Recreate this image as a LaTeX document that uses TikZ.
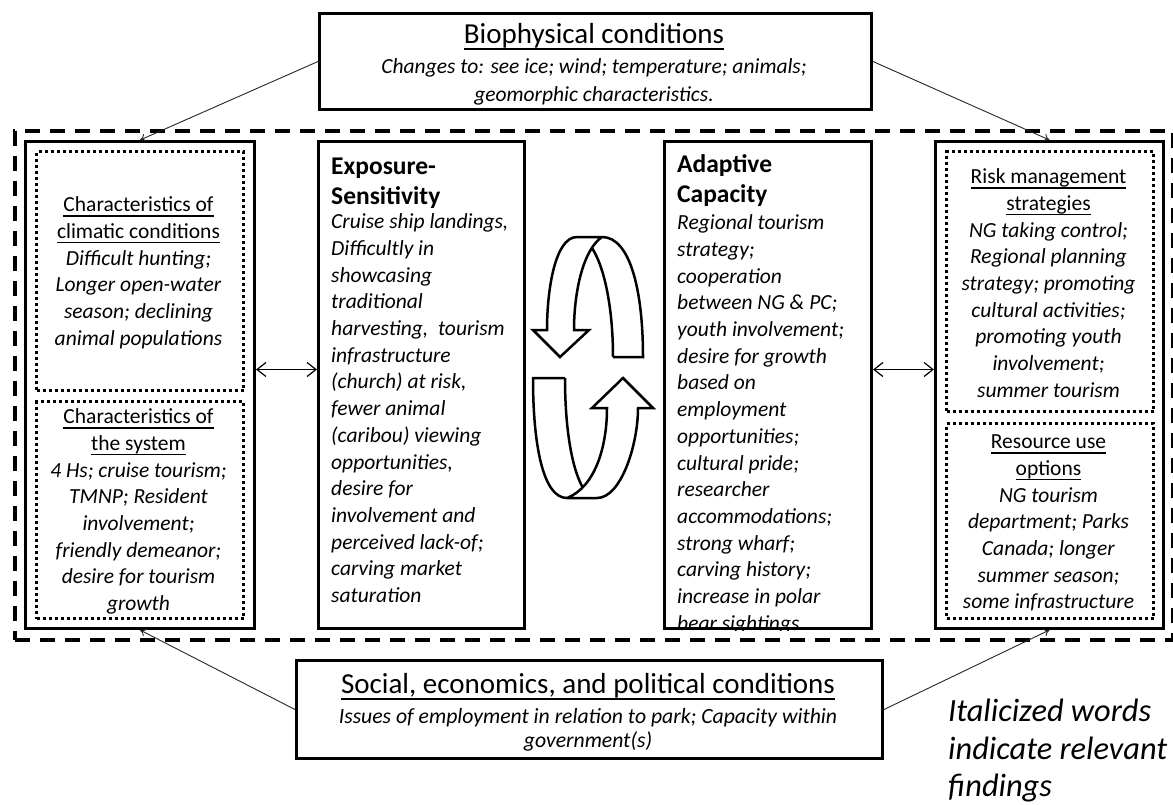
\documentclass[tikz,border=0pt]{standalone}
\usepackage{fontspec}
\setmainfont{Carlito}
\usetikzlibrary{arrows.meta}
% underline at a fixed depth below the baseline
\newcommand\ulhead[1]{\setbox0\hbox{#1}\rlap{\rule[-0.23em]{\wd0}{0.07em}}\box0}
% fixed-height strut so the first baseline sits a known distance below a node's top
\newcommand\topstrut{\rule{0pt}{22pt}}

\tikzset{
  solidbox/.style={draw, line width=3pt, rectangle, inner sep=0pt, anchor=north west},
  dotbox/.style={draw, line width=3pt, dash pattern=on 3pt off 3pt, rectangle, inner sep=0pt, anchor=north west},
  framebox/.style={draw, line width=4pt, dash pattern=on 15pt off 10pt, rectangle, inner sep=0pt, anchor=north west},
  body/.style={inner sep=0pt, font=\fontsize{21.5}{26.7}\selectfont, align=center, anchor=north},
  bodyleft/.style={body, align=left, anchor=north west},
  boxtitle/.style={inner sep=0pt, font=\fontsize{25.5}{30}\selectfont\bfseries, align=left, anchor=north west},
  headline/.style={anchor=base, inner sep=0pt, font=\fontsize{29}{34}\selectfont},
  link/.style={line width=0.9pt, draw=black!85, -{To[length=6pt,width=8pt]}},
  twoway/.style={line width=1.2pt, {Straight Barb[length=9pt,width=14pt]}-{Straight Barb[length=9pt,width=14pt]}},
  cyclearrow/.style={line width=2.5pt, line join=miter},
}

\begin{document}
\begin{tikzpicture}[x=1pt,y=-1pt]
\useasboundingbox (0,0) rectangle (1173,804);

% outer dashed frame
\node[framebox, minimum width=1158pt, minimum height=509pt] (frame) at (13,129) {};

% top and bottom condition boxes
\node[solidbox, minimum width=552pt, minimum height=96pt] (bio) at (318,12) {};
\node[headline] (biotitle) at (594,43.7) {\ulhead{Biophysical conditions}};
\node[body, font=\fontsize{21.5}{28}\selectfont\itshape] (biotxt) at (594,51.5)
  {\topstrut Changes to: see ice; wind; temperature; animals;\\ geomorphic characteristics.};

\node[solidbox, minimum width=586pt, minimum height=98pt] (soc) at (295,659) {};
\node[headline] (soctitle) at (588,693.2) {\ulhead{Social, economics, and political conditions}};
\node[body, font=\fontsize{21.7}{23.3}\selectfont\itshape] (soctxt) at (588,701.5)
  {\topstrut Issues of employment in relation to park; Capacity within\\ government(s)};

% left column
\node[solidbox, minimum width=229pt, minimum height=487pt] (leftcol) at (24,140) {};
\node[dotbox, minimum width=207pt, minimum height=239pt] (lc1) at (35,150) {};
\node[dotbox, minimum width=207pt, minimum height=217pt] (lc2) at (35,400) {};
\node[body] (lc1txt) at (138.5,189.5)
  {\topstrut\ulhead{Characteristics of}\\ \ulhead{climatic conditions}\\ \textit{Difficult hunting;}\\
   \textit{Longer open-water}\\ \textit{season; declining}\\ \textit{animal populations}};
\node[body] (lc2txt) at (138.5,401.5)
  {\topstrut\ulhead{Characteristics of}\\ \ulhead{the system}\\ \textit{4 Hs; cruise tourism;}\\
   \textit{TMNP; Resident}\\ \textit{involvement;}\\ \textit{friendly demeanor;}\\
   \textit{desire for tourism}\\ \textit{growth}};

% exposure-sensitivity
\node[solidbox, minimum width=206pt, minimum height=487pt] (expo) at (317,140) {};
\node[boxtitle] (expotitle) at (331,152.6) {\topstrut Exposure-\\ Sensitivity};
\node[bodyleft, font=\fontsize{21.5}{26.7}\selectfont\itshape] (expotxt) at (331,206.5)
  {\topstrut Cruise ship landings,\\ Difficultly in\\ showcasing\\ traditional\\ harvesting,\ \ tourism\\
   infrastructure\\ (church) at risk,\\ fewer animal\\ (caribou) viewing\\ opportunities,\\
   desire for\\ involvement and\\ perceived lack-of;\\ carving market\\ saturation};

% adaptive capacity (text runs past the bottom edge and is cut there)
\node[solidbox, minimum width=207pt, minimum height=487pt] (adapt) at (663,140) {};
\node[boxtitle] (adapttitle) at (677,150.6) {\topstrut Adaptive\\ Capacity};
\begin{scope}
  \clip (adapt.north west) rectangle (adapt.south east);
  \node[bodyleft, font=\fontsize{21.5}{26.7}\selectfont\itshape] (adapttxt) at (677,207.5)
    {\topstrut Regional tourism\\ strategy;\\ cooperation\\ between NG \& PC;\\ youth involvement;\\
     desire for growth\\ based on\\ employment\\ opportunities;\\ cultural pride;\\ researcher\\
     accommodations;\\ strong wharf;\\ carving history;\\ increase in polar\\ bear sightings};
\end{scope}
\node[solidbox, minimum width=207pt, minimum height=487pt] at (663,140) {};

% right column
\node[solidbox, minimum width=228pt, minimum height=487pt] (rightcol) at (934,140) {};
\node[dotbox, minimum width=207pt, minimum height=260pt] (rc1) at (945,150) {};
\node[dotbox, minimum width=207pt, minimum height=195pt] (rc2) at (945,422) {};
\node[body] (rc1txt) at (1048.5,161.5)
  {\topstrut\ulhead{Risk management}\\ \ulhead{strategies}\\ \textit{NG taking control;}\\
   \textit{Regional planning}\\ \textit{strategy; promoting}\\ \textit{cultural activities;}\\
   \textit{promoting youth}\\ \textit{involvement;}\\ \textit{summer tourism}};
\node[body] (rc2txt) at (1048.5,426.5)
  {\topstrut\ulhead{Resource use}\\ \ulhead{options}\\ \textit{NG tourism}\\ \textit{department; Parks}\\
   \textit{Canada; longer}\\ \textit{summer season;}\\ \textit{some infrastructure}};

% note
\node[inner sep=0pt, anchor=north west, align=left, font=\fontsize{32.4}{37.5}\selectfont\itshape] (note) at (948,693.7)
  {\rule{0pt}{28pt}Italicized words\\ indicate relevant\\ findings};

% connectors
\draw[link] (bio.west) -- (leftcol.north);
\draw[link] (bio.east) -- (rightcol.north);
\draw[link] (soc.west) -- (leftcol.south);
\draw[link] (soc.east) -- (rightcol.south);
\draw[twoway] ([yshift=15.5pt]leftcol.east) -- ([yshift=15.5pt]expo.west);
\draw[twoway] ([yshift=15.5pt]adapt.east) -- ([yshift=15.5pt]rightcol.west);

% feedback cycle: two curved ribbon arrows
\draw[cyclearrow] (613,357) -- (643,357) .. controls (643,290) and (630,237) .. (602,237)
  -- (577,237) .. controls (555,237) and (547,290) .. (547,330)
  -- (533,330) -- (560,357) -- (589,330) -- (574,330)
  .. controls (574,292) and (583,250) .. (602,237);
\draw[cyclearrow] (592,248) .. controls (605,268) and (613,310) .. (613,357);

\draw[cyclearrow] (565,378) -- (533,378) .. controls (533,445) and (543,498) .. (567,498)
  -- (597,498) .. controls (621,498) and (638,445) .. (638,408)
  -- (653,408) -- (623,378) -- (592,408) -- (607,408)
  .. controls (607,447) and (595,487) .. (567,498);
\draw[cyclearrow] (583,488) .. controls (571,467) and (565,425) .. (565,378);

\end{tikzpicture}
\end{document}
